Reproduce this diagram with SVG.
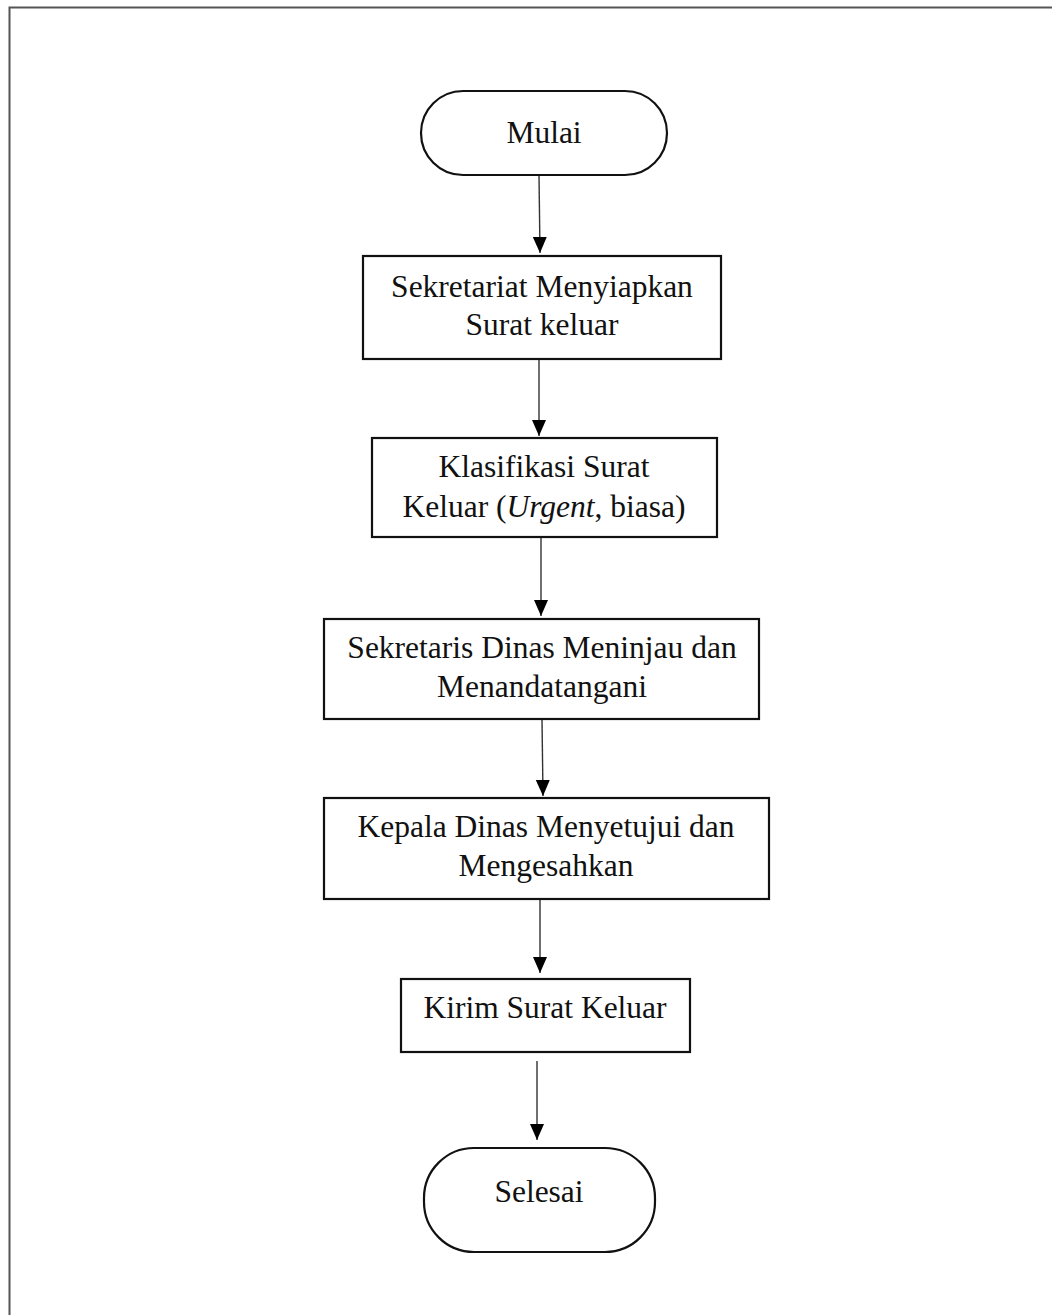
<svg xmlns="http://www.w3.org/2000/svg" width="1052" height="1315" viewBox="0 0 1052 1315">
<style>
.shape{fill:#fff;stroke:#111;stroke-width:2.2}
.t{font-family:"Liberation Serif","Times New Roman",serif;font-size:31.5px;fill:#111;text-anchor:middle}
.c{stroke:#333;stroke-width:1.4;fill:none}
</style>
<defs>
<marker id="ah" markerWidth="16" markerHeight="16" viewBox="0 0 16 16" refX="16" refY="8" orient="auto" markerUnits="userSpaceOnUse">
<path d="M0,1 L16,8 L0,15 Z" fill="#000"/>
</marker>
</defs>
<rect width="1052" height="1315" fill="#fff"/>
<path d="M9.5,1315 V7.5 H1052" fill="none" stroke="#555" stroke-width="2"/>
<g id="connectors">
<line class="c" x1="539" y1="175" x2="540" y2="253" marker-end="url(#ah)"/>
<line class="c" x1="539" y1="359" x2="539" y2="436" marker-end="url(#ah)"/>
<line class="c" x1="541" y1="537" x2="541" y2="616" marker-end="url(#ah)"/>
<line class="c" x1="542" y1="719" x2="543" y2="796" marker-end="url(#ah)"/>
<line class="c" x1="540" y1="899" x2="540" y2="973" marker-end="url(#ah)"/>
<line class="c" x1="537" y1="1061" x2="537" y2="1140" marker-end="url(#ah)"/>
</g>
<g id="mulai">
<rect class="shape" x="421" y="91" width="246" height="84" rx="42" ry="42"/>
<text class="t" x="544" y="143">Mulai</text>
</g>
<g id="n1">
<rect class="shape" x="363" y="256" width="358" height="103"/>
<text class="t" x="542" y="297">Sekretariat Menyiapkan</text>
<text class="t" x="542" y="335">Surat keluar</text>
</g>
<g id="n2">
<rect class="shape" x="372" y="438" width="345" height="99"/>
<text class="t" x="544" y="477">Klasifikasi Surat</text>
<text class="t" x="544" y="517">Keluar (<tspan font-style="italic">Urgent</tspan>, biasa)</text>
</g>
<g id="n3">
<rect class="shape" x="324" y="619" width="435" height="100"/>
<text class="t" x="542" y="658">Sekretaris Dinas Meninjau dan</text>
<text class="t" x="542" y="697">Menandatangani</text>
</g>
<g id="n4">
<rect class="shape" x="324" y="798" width="445" height="101"/>
<text class="t" x="546" y="837">Kepala Dinas Menyetujui dan</text>
<text class="t" x="546" y="876">Mengesahkan</text>
</g>
<g id="n5">
<rect class="shape" x="401" y="979" width="289" height="73"/>
<text class="t" x="545" y="1018">Kirim Surat Keluar</text>
</g>
<g id="selesai">
<rect class="shape" x="424" y="1148" width="231" height="104" rx="50" ry="50"/>
<text class="t" x="539" y="1202">Selesai</text>
</g>
</svg>
